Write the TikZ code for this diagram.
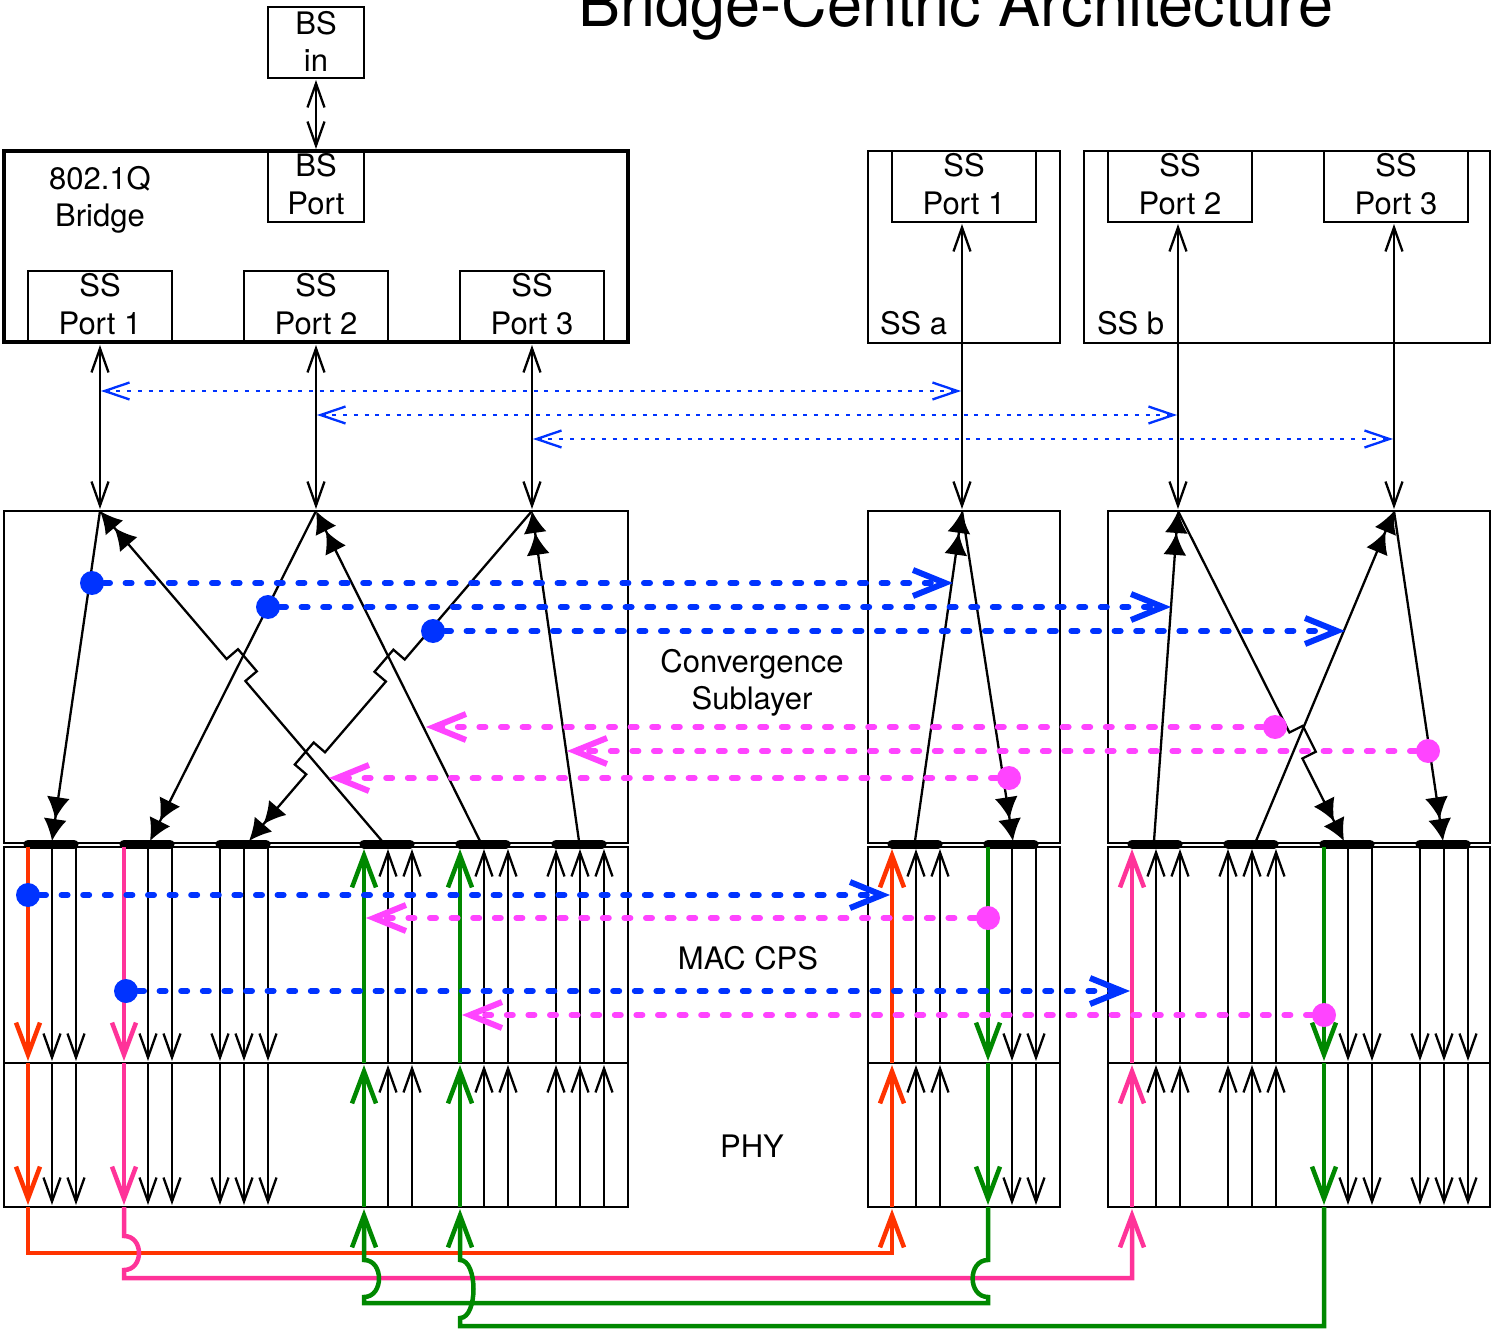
\documentclass[tikz,border=0pt]{standalone}
\usepackage{fontspec}
\setmainfont{TeX Gyre Heros}
\usetikzlibrary{arrows.meta}
\definecolor{cblue}{HTML}{0033FF}
\definecolor{cmag}{HTML}{FF44FF}
\definecolor{cred}{HTML}{FF3300}
\definecolor{cpink}{HTML}{FF3399}
\definecolor{cgreen}{HTML}{008800}
\tikzset{
  smallbarb/.tip={Straight Barb[length=24pt,width=17pt]},
  bigbarb/.tip={Straight Barb[length=32pt,width=24pt]},
  dashbarb/.tip={Straight Barb[length=32pt,width=26pt]},
  dotbarb/.tip={Straight Barb[length=25pt,width=17pt]},
  filltip/.tip={Latex[length=22pt,width=23pt]},
  rbox/.style={draw, line width=2pt, rectangle, inner sep=0pt, outer sep=0pt},
  lbl/.style={font=\fontsize{31}{37}\selectfont, anchor=base, inner sep=0pt, outer sep=0pt},
  thinarr/.style={line width=2.3pt, -{smallbarb}},
  thinboth/.style={line width=2.3pt, {smallbarb}-{smallbarb}},
  fillarr/.style={line width=2.3pt, line join=miter, -{filltip[]filltip[]}},
  colarr/.style={line width=4.5pt, -{bigbarb}},
  wire/.style={line width=4.5pt, line join=miter},
  bar/.style={line width=9pt, line cap=round},
  dotline/.style={draw=cblue, line width=2.3pt, dash pattern=on 4pt off 6.7pt, {dotbarb}-{dotbarb}},
  fatdash/.style={line width=6pt, dash pattern=on 6pt off 15.6pt, line cap=round, -{dashbarb}},
  dot/.style={circle, inner sep=0pt, outer sep=0pt, minimum size=24pt},
}
\begin{document}
\begin{tikzpicture}[x=1pt,y=-1pt]
\useasboundingbox (0,0) rectangle (1492,1329);
% ---------- title ----------
\node[font=\fontsize{63}{70}\selectfont, anchor=base, inner sep=0pt] (title) at (956,27) {Bridge-Centric Architecture};
% ---------- top boxes ----------
\node[rbox, minimum width=96pt, minimum height=71pt] (bsin) at (316,42.5) {};
\node[rbox, line width=4pt, minimum width=624pt, minimum height=191pt] (bridge) at (316,246.5) {};
\node[rbox, minimum width=96pt, minimum height=71pt] (bsport) at (316,186.5) {};
\node[rbox, minimum width=144pt, minimum height=71pt] (ssp1) at (100,306.5) {};
\node[rbox, minimum width=144pt, minimum height=71pt] (ssp2) at (316,306.5) {};
\node[rbox, minimum width=144pt, minimum height=71pt] (ssp3) at (532,306.5) {};
\node[rbox, minimum width=192pt, minimum height=192pt] (ssa) at (964,247) {};
\node[rbox, minimum width=144pt, minimum height=71pt] (ssap1) at (964,186.5) {};
\node[rbox, minimum width=406pt, minimum height=192pt] (ssb) at (1287,247) {};
\node[rbox, minimum width=144pt, minimum height=71pt] (ssbp2) at (1180,186.5) {};
\node[rbox, minimum width=144pt, minimum height=71pt] (ssbp3) at (1396,186.5) {};
% labels
\node[lbl] at (316,35) {BS};   \node[lbl] at (316,72) {in};
\node[lbl] at (316,177) {BS};  \node[lbl] at (316,215) {Port};
\node[lbl] at (100,190) {802.1Q}; \node[lbl] at (100,227) {Bridge};
\node[lbl] at (100,297) {SS};  \node[lbl] at (100,335) {Port 1};
\node[lbl] at (316,297) {SS};  \node[lbl] at (316,335) {Port 2};
\node[lbl] at (532,297) {SS};  \node[lbl] at (532,335) {Port 3};
\node[lbl] at (964,177) {SS};  \node[lbl] at (964,215) {Port 1};
\node[lbl] at (1180,177) {SS}; \node[lbl] at (1180,215) {Port 2};
\node[lbl] at (1396,177) {SS}; \node[lbl] at (1396,215) {Port 3};
\node[lbl, anchor=base west] at (880,335) {SS a};
\node[lbl, anchor=base west] at (1097,335) {SS b};
% ---------- layer boxes ----------
\node[rbox, minimum width=624pt, minimum height=332pt] (convL) at (316,677) {};
\node[rbox, minimum width=192pt, minimum height=332pt] (convM) at (964,677) {};
\node[rbox, minimum width=382pt, minimum height=332pt] (convR) at (1299,677) {};
\node[rbox, minimum width=624pt, minimum height=216pt] (macL) at (316,955) {};
\node[rbox, minimum width=192pt, minimum height=216pt] (macM) at (964,955) {};
\node[rbox, minimum width=382pt, minimum height=216pt] (macR) at (1299,955) {};
\node[rbox, minimum width=624pt, minimum height=144pt] (phyL) at (316,1135) {};
\node[rbox, minimum width=192pt, minimum height=144pt] (phyM) at (964,1135) {};
\node[rbox, minimum width=382pt, minimum height=144pt] (phyR) at (1299,1135) {};
\node[lbl] at (752,672) {Convergence};
\node[lbl] at (752,709) {Sublayer};
\node[lbl] at (748,969) {MAC CPS};
\node[lbl] at (752,1157) {PHY};
% ---------- convergence points ----------
\coordinate (cL1) at (100,511); \coordinate (cL2) at (316,511); \coordinate (cL3) at (532,511);
\coordinate (cM) at (962,511); \coordinate (cR1) at (1178,511); \coordinate (cR2) at (1394,511);
\coordinate (bL1) at (52,841);  \coordinate (bL2) at (150,841); \coordinate (bL3) at (249,841);
\coordinate (bL4) at (382,841); \coordinate (bL5) at (480,841); \coordinate (bL6) at (579,841);
\coordinate (bM1) at (915,841); \coordinate (bM2) at (1013,841);
\coordinate (bR1) at (1154,841); \coordinate (bR2) at (1256,841);
\coordinate (bR3) at (1344,841); \coordinate (bR4) at (1443,841);
% ---------- port arrows ----------
\draw[thinboth] ([yshift=-2pt]bsin.south) -- ([yshift=2pt]bsport.north);
\draw[thinboth] ([yshift=-3pt]ssp1.south) -- ([yshift=2pt]cL1);
\draw[thinboth] ([yshift=-3pt]ssp2.south) -- ([yshift=2pt]cL2);
\draw[thinboth] ([yshift=-3pt]ssp3.south) -- ([yshift=2pt]cL3);
\draw[thinboth] ([xshift=-2pt,yshift=-2pt]ssap1.south) -- ([yshift=2pt]cM);
\draw[thinboth] ([xshift=-2pt,yshift=-2pt]ssbp2.south) -- ([yshift=2pt]cR1);
\draw[thinboth] ([xshift=-2pt,yshift=-2pt]ssbp3.south) -- ([yshift=2pt]cR2);
% blue dotted peer links
\coordinate (p1a) at (101,391); \coordinate (p1b) at (961,391);
\coordinate (p2a) at (317,415); \coordinate (p2b) at (1177,415);
\coordinate (p3a) at (533,439); \coordinate (p3b) at (1393,439);
\draw[dotline] (p1a) -- (p1b);
\draw[dotline] (p2a) -- (p2b);
\draw[dotline] (p3a) -- (p3b);
% ---------- bars ----------
\foreach \x in {28,124,220,364,460,556,892,988,1132,1228,1324,1420}
  \draw[bar] (\x,844) -- (\x+46,844);
% ---------- convergence connectors ----------
\draw[fillarr] (cL1) -- (bL1);
\draw[fillarr] (bL4) -- (245.4,681.0) -- (256.8,671.3) -- (238.0,649.2) -- (226.6,659.0) -- (cL1);
\draw[fillarr] (cL2) -- (bL2);
\draw[fillarr] (bL5) -- (cL2);
\draw[fillarr] (cL3) -- (404.7,659.5) -- (393.4,649.7) -- (374.5,671.8) -- (385.9,681.5)
   -- (325.0,752.3) -- (313.7,742.5) -- (294.8,764.5) -- (306.2,774.3) -- (bL3);
\draw[fillarr] (bL6) -- (cL3);
\draw[fillarr] (bM1) -- (cM);
\draw[fillarr] (cM) -- (bM2);
\draw[fillarr] (bR1) -- (cR1);
\draw[fillarr] (cR1) -- (1289.4,732.5) -- (1302.8,725.8) -- (1315.8,751.7) -- (1302.4,758.5) -- (bR3);
\draw[fillarr] (bR2) -- (cR2);
\draw[fillarr] (cR2) -- (bR4);
% ---------- MAC / PHY black lines ----------
\foreach \x in {52,76,148,172,220,244,268,1012,1036,1348,1372,1420,1444,1468}{
  \draw[thinarr] (\x,847) -- (\x,1061);
  \draw[thinarr] (\x,1063) -- (\x,1205);
}
\foreach \x in {388,412,484,508,556,580,604,916,940,1156,1180,1228,1252,1276}{
  \draw[thinarr] (\x,1063) -- (\x,849);
  \draw[thinarr] (\x,1207) -- (\x,1065);
}
% ---------- coloured paths ----------
% red
\draw[colarr, cred] (28,847) -- (28,1061);
\draw[colarr, cred] (28,1063) -- (28,1205);
\draw[wire, cred, -{bigbarb}] (28,1207) -- (28,1253) -- (892,1253) -- (892,1209);
\draw[colarr, cred] (892,1207) -- (892,1065);
\draw[colarr, cred] (892,1063) -- (892,849);
% pink
\draw[colarr, cpink] (124,847) -- (124,1061);
\draw[colarr, cpink] (124,1063) -- (124,1205);
\draw[wire, cpink, -{bigbarb}] (124,1207) -- (124,1236) .. controls (144,1236) and (144,1270) .. (124,1270)
   -- (124,1278) -- (1132,1278) -- (1132,1209);
\draw[colarr, cpink] (1132,1207) -- (1132,1065);
\draw[colarr, cpink] (1132,1063) -- (1132,849);
% green 1
\draw[colarr, cgreen] (988,847) -- (988,1061);
\draw[colarr, cgreen] (988,1063) -- (988,1205);
\draw[wire, cgreen, -{bigbarb}] (988,1207) -- (988,1260) .. controls (967.5,1260) and (967.5,1297) .. (988,1297)
   -- (988,1303) -- (364,1303) -- (364,1297) .. controls (384,1297) and (384,1260) .. (364,1260) -- (364,1209);
\draw[colarr, cgreen] (364,1207) -- (364,1065);
\draw[colarr, cgreen] (364,1063) -- (364,849);
% green 2
\draw[colarr, cgreen] (1324,847) -- (1324,1061);
\draw[colarr, cgreen] (1324,1063) -- (1324,1205);
\draw[wire, cgreen, -{bigbarb}] (1324,1207) -- (1324,1326) -- (460,1326) -- (460,1318)
   .. controls (478,1318) and (478,1260) .. (460,1260) -- (460,1209);
\draw[colarr, cgreen] (460,1207) -- (460,1065);
\draw[colarr, cgreen] (460,1063) -- (460,849);
% ---------- dashed flows: convergence ----------
\coordinate (t1) at (953,583);  \coordinate (t2) at (1171,607); \coordinate (t3) at (1345,631);
\coordinate (t4) at (426,727);  \coordinate (t5) at (567,751);  \coordinate (t6) at (329,778);
\node[dot, fill=cblue] (bd1) at (92,583) {};
\node[dot, fill=cblue] (bd2) at (268,607) {};
\node[dot, fill=cblue] (bd3) at (433,631) {};
\node[dot, fill=cmag] (md1) at (1275,727) {};
\node[dot, fill=cmag] (md2) at (1428,751) {};
\node[dot, fill=cmag] (md3) at (1009,778) {};
\draw[fatdash, cblue] (bd1) -- (t1);
\draw[fatdash, cblue] (bd2) -- (t2);
\draw[fatdash, cblue] (bd3) -- (t3);
\draw[fatdash, cmag] (md1) -- (t4);
\draw[fatdash, cmag] (md2) -- (t5);
\draw[fatdash, cmag] (md3) -- (t6);
% ---------- dashed flows: MAC CPS ----------
\coordinate (t7) at (890,895); \coordinate (t8) at (366,918);
\coordinate (t9) at (1130,991); \coordinate (t10) at (462,1015);
\node[dot, fill=cblue] (bd4) at (28,895) {};
\node[dot, fill=cmag] (md4) at (988,918) {};
\node[dot, fill=cblue] (bd5) at (126,991) {};
\node[dot, fill=cmag] (md5) at (1324,1015) {};
\draw[fatdash, cblue] (bd4) -- (t7);
\draw[fatdash, cmag] (md4) -- (t8);
\draw[fatdash, cblue] (bd5) -- (t9);
\draw[fatdash, cmag] (md5) -- (t10);
\end{tikzpicture}
\end{document}
